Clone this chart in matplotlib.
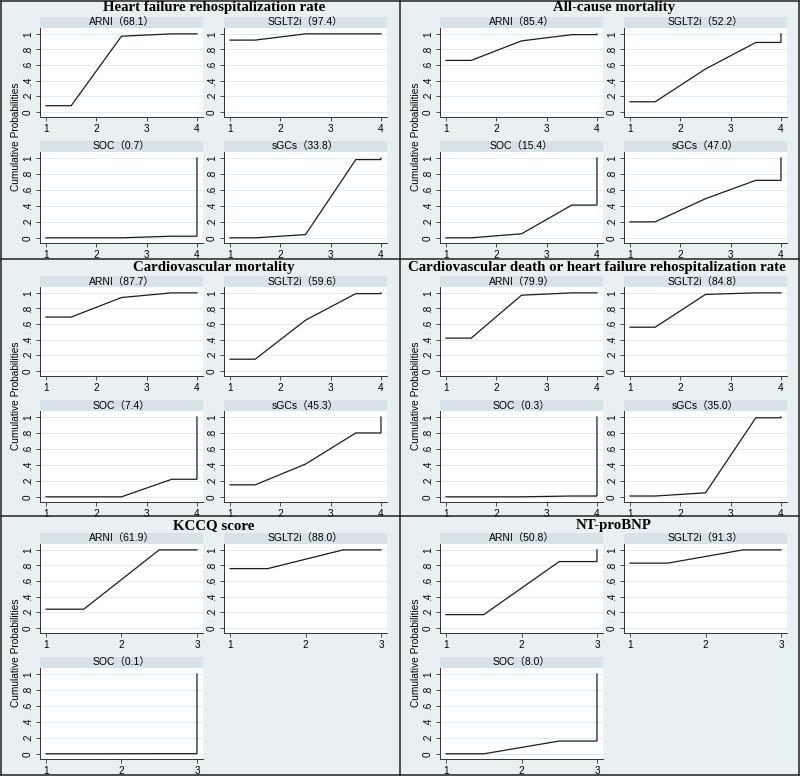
#!/usr/bin/env python3
"""Cumulative ranking (SUCRA) plots for six outcomes, 2x3 layout."""

import matplotlib
matplotlib.use("Agg")
import matplotlib.pyplot as plt
from matplotlib.lines import Line2D

W, H = 800, 776
BG = "#e9f0f2"
STRIP = "#d7e3e8"
GRID = "#e4ecef"
INK = "#1c1c1c"

OUTCOMES = [
    "Heart failure rehospitalization rate",
    "All-cause mortality",
    "Cardiovascular mortality",
    "Cardiovascular death or heart failure rehospitalization rate",
    "KCCQ score",
    "NT-proBNP",
]

TREATMENTS_4 = ["ARNI", "SGLT2i", "SOC", "sGCs"]
TREATMENTS_3 = ["ARNI", "SGLT2i", "SOC"]

# SUCRA (%) and cumulative probability of being within the top k ranks (k = 1..n-1)
hf_sucra = [68.1, 97.4, 0.7, 33.8]
hf_cum = [[0.08, 0.97, 1.00], [0.92, 1.00, 1.00], [0.00, 0.00, 0.02], [0.00, 0.04, 0.98]]

acm_sucra = [85.4, 52.2, 15.4, 47.0]
acm_cum = [[0.66, 0.91, 0.99], [0.13, 0.55, 0.89], [0.00, 0.05, 0.41], [0.20, 0.49, 0.72]]

cvm_sucra = [87.7, 59.6, 7.4, 45.3]
cvm_cum = [[0.69, 0.94, 1.00], [0.15, 0.65, 0.99], [0.00, 0.00, 0.22], [0.15, 0.41, 0.80]]

cvhf_sucra = [79.9, 84.8, 0.3, 35.0]
cvhf_cum = [[0.42, 0.97, 1.00], [0.56, 0.98, 1.00], [0.00, 0.00, 0.01], [0.01, 0.05, 0.99]]

kccq_sucra = [61.9, 88.0, 0.1]
kccq_cum = [[0.24, 1.00], [0.76, 1.00], [0.00, 0.002]]

ntp_sucra = [50.8, 91.3, 8.0]
ntp_cum = [[0.17, 0.85], [0.83, 1.00], [0.00, 0.16]]

YTICKS = [0, 0.2, 0.4, 0.6, 0.8, 1]
YTICKLABELS = ["0", ".2", ".4", ".6", ".8", "1"]


def px_rect(left, top, w, h):
    return [left / W, 1 - (top + h) / H, w / W, h / H]


def sucra_line(cum):
    """Stata-style cumulative ranking curve through rank midpoints."""
    n = len(cum) + 1
    xs, ys = [1, 1.5], [cum[0], cum[0]]
    for k in range(1, len(cum)):
        xs.append(k + 1.5)
        ys.append(cum[k])
    xs += [n, n]
    ys += [cum[-1], 1.0]
    return xs, ys


def draw_panel(fig, x0, y0, title, names, sucra, cum, title_dy=8):
    n = len(names)
    cols = [40, 224]
    rows = [(17, 28, 89), (141, 152, 91)]
    for i, name in enumerate(names):
        cx = x0 + cols[i % 2]
        st, pt, ph = rows[i // 2]
        sax = fig.add_axes(px_rect(cx, y0 + st, 163, pt - st))
        sax.set_facecolor(STRIP)
        sax.set_xticks([]); sax.set_yticks([])
        for s in sax.spines.values():
            s.set_visible(False)
        sax.text(0.5, 0.5, f"{name}（{sucra[i]:.1f}）", ha="center", va="center",
                 fontsize=7.5, family=["Liberation Sans", "Noto Sans CJK SC"],
                 transform=sax.transAxes)

        ax = fig.add_axes(px_rect(cx, y0 + pt, 163, ph))
        ax.set_facecolor("white")
        xs, ys = sucra_line(cum[i])
        ax.plot(xs, ys, color=INK, lw=0.9, solid_joinstyle="miter")
        pad = (n - 1) * 6 / 150
        ax.set_xlim(1 - pad, n + pad)
        ax.set_ylim(-0.065, 1.075)
        ax.set_xticks(range(1, n + 1))
        ax.set_xticklabels([str(k) for k in range(1, n + 1)],
                           fontsize=7.2, family="Liberation Sans")
        ax.set_yticks(YTICKS)
        ax.set_yticklabels(YTICKLABELS, rotation=90, va="center",
                           fontsize=7.2, family="Liberation Sans")
        ax.tick_params(length=3, width=0.6, color="#333333", pad=2)
        for y in YTICKS:
            ax.axhline(y, color=GRID, lw=0.7, zorder=0)
        for side in ("top", "right"):
            ax.spines[side].set_visible(False)
        for side in ("left", "bottom"):
            ax.spines[side].set_color("#333333")
            ax.spines[side].set_linewidth(0.7)

    # long titles get pushed left so they stay inside the panel
    tx = 214 if len(title) < 50 else 197
    fig.text((x0 + tx) / W, 1 - (y0 + title_dy) / H, title, ha="center", va="center",
             fontsize=10.7, fontweight="bold", family="Liberation Serif")
    fig.text((x0 + 16) / W, 1 - (y0 + 137) / H, "Cumulative Probabilities",
             rotation=90, ha="center", va="center", fontsize=7.3,
             family="Liberation Sans")


if __name__ == "__main__":
    fig = plt.figure(figsize=(W / 100, H / 100), dpi=100)
    fig.patch.set_facecolor(BG)

    row_tops = [0, 259, 516]
    title_dys = [8, 8, 10]
    panels = [
        (hf_sucra, hf_cum, TREATMENTS_4),
        (acm_sucra, acm_cum, TREATMENTS_4),
        (cvm_sucra, cvm_cum, TREATMENTS_4),
        (cvhf_sucra, cvhf_cum, TREATMENTS_4),
        (kccq_sucra, kccq_cum, TREATMENTS_3),
        (ntp_sucra, ntp_cum, TREATMENTS_3),
    ]
    for k, (sucra, cum, names) in enumerate(panels):
        x0 = 0 if k % 2 == 0 else 400
        y0 = row_tops[k // 2]
        draw_panel(fig, x0, y0, OUTCOMES[k], names, sucra, cum, title_dys[k // 2])

    # panel borders
    def hline(y, x1=1, x2=799):
        fig.add_artist(Line2D([x1 / W, x2 / W], [1 - y / H, 1 - y / H],
                              color="#222222", lw=1.1))

    def vline(x, y1=1, y2=775):
        fig.add_artist(Line2D([x / W, x / W], [1 - y1 / H, 1 - y2 / H],
                              color="#222222", lw=1.1))

    for y in (1, 259, 516, 775):
        hline(y)
    for x in (1, 400, 799):
        vline(x)

    fig.savefig("out.png", dpi=100, facecolor=BG)
